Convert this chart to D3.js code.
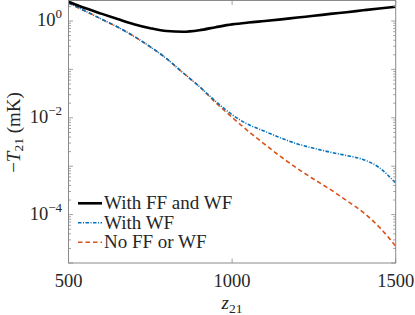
<!DOCTYPE html>
<html>
<head>
<script src="https://cdn.jsdelivr.net/npm/d3@7"></script>
<style>
  body { margin: 0; background: #fff; }
  text { font-family: "Liberation Serif", "DejaVu Serif", serif; fill: #262626; }
  .line { fill: none; }
</style>
</head>
<body>
<script>
var z = [500, 550, 600, 650, 700, 750, 800, 850, 900, 950, 1000, 1050, 1100, 1150, 1200, 1250, 1300, 1350, 1400, 1450, 1500];

// -T21 in mK
var withFFandWF = [2.5, 1.85, 1.42, 1.1, 0.86, 0.71, 0.62, 0.6, 0.645, 0.745, 0.85, 0.93, 1.0, 1.08, 1.18, 1.28, 1.40, 1.52, 1.66, 1.81, 1.97];
var withWF = [2.34, 1.62, 1.10, 0.75, 0.483, 0.292, 0.166, 0.0851, 0.0442, 0.0218, 0.0116, 0.00724, 0.00525, 0.0038, 0.00288, 0.00234, 0.00195, 0.00166, 0.00138, 0.00093, 0.000447];
var noFForWF = [2.34, 1.62, 1.10, 0.75, 0.483, 0.292, 0.166, 0.0851, 0.0442, 0.0205, 0.0102, 0.00525, 0.00282, 0.00155, 0.00089, 0.000537, 0.000331, 0.000195, 0.000112, 0.000055, 0.0000224];

var xTicks = [500, 1000, 1500];
var yTicks = [1e-4, 1e-2, 1];
var yTickLabels = ["\u22124", "\u22122", "0"];

var series = [
  { name: "With FF and WF", values: withFFandWF, color: "#000000", width: 2.6, dash: null },
  { name: "With WF", values: withWF, color: "#0072BD", width: 1.6, dash: "3.5,1.5,1,1.5" },
  { name: "No FF or WF", values: noFForWF, color: "#D95319", width: 1.6, dash: "4.5,3" }
];

var svgWidth = 415, svgHeight = 315;
var pLeft = 68.5, pRight = 395.7, pTop = 0.5, pBottom = 263;

var x = d3.scaleLinear().domain([500, 1500]).range([pLeft, pRight]);
var y = d3.scaleLog().domain([1e-5, 2.65]).range([pBottom, pTop]);

var svg = d3.select("body").append("svg")
  .attr("width", svgWidth)
  .attr("height", svgHeight);

svg.append("clipPath").attr("id", "clip")
  .append("rect")
  .attr("x", pLeft).attr("y", pTop)
  .attr("width", pRight - pLeft).attr("height", pBottom - pTop);

var line = d3.line()
  .x(function (d) { return x(d[0]); })
  .y(function (d) { return y(d[1]); })
  .curve(d3.curveMonotoneX);

var plot = svg.append("g").attr("clip-path", "url(#clip)");

series.slice().reverse().forEach(function (s) {
  plot.append("path")
    .datum(z.map(function (v, i) { return [v, s.values[i]]; }))
    .attr("class", "line")
    .attr("stroke", s.color)
    .attr("stroke-width", s.width)
    .attr("stroke-dasharray", s.dash)
    .attr("d", line);
});

// axes box
var axisColor = "#8a8a8a";
svg.append("rect")
  .attr("x", pLeft).attr("y", pTop)
  .attr("width", pRight - pLeft).attr("height", pBottom - pTop)
  .attr("fill", "none")
  .attr("stroke", axisColor)
  .attr("stroke-width", 1);

// y ticks, major and minor, inward on both sides
var yMinor = [];
for (var e = -5; e <= 0; e++) {
  for (var k = 1; k <= 9; k++) {
    var v = k * Math.pow(10, e);
    if (v <= 2.65) yMinor.push({ v: v, major: k === 1 });
  }
}
yMinor.forEach(function (t) {
  var len = t.major ? 4.5 : 2.5;
  var yy = y(t.v);
  svg.append("line").attr("x1", pLeft).attr("x2", pLeft + len).attr("y1", yy).attr("y2", yy)
    .attr("stroke", axisColor).attr("stroke-width", 0.8);
  svg.append("line").attr("x1", pRight).attr("x2", pRight - len).attr("y1", yy).attr("y2", yy)
    .attr("stroke", axisColor).attr("stroke-width", 0.8);
});

// x ticks
xTicks.forEach(function (t) {
  svg.append("line").attr("x1", x(t)).attr("x2", x(t)).attr("y1", pBottom).attr("y2", pBottom - 4.5)
    .attr("stroke", axisColor).attr("stroke-width", 0.8);
  svg.append("line").attr("x1", x(t)).attr("x2", x(t)).attr("y1", pTop).attr("y2", pTop + 4.5)
    .attr("stroke", axisColor).attr("stroke-width", 0.8);
  svg.append("text")
    .attr("x", x(t)).attr("y", 287)
    .attr("text-anchor", "middle")
    .attr("font-size", 18.5)
    .text(t);
});

// y tick labels
yTicks.forEach(function (t, i) {
  var tx = svg.append("text")
    .attr("x", 62).attr("y", y(t) + 5.5)
    .attr("text-anchor", "end")
    .attr("font-size", 18.5);
  tx.append("tspan").text("10");
  tx.append("tspan").attr("dy", -8.5).attr("font-size", 13).text(yTickLabels[i]);
});

// x label
var xl = svg.append("text")
  .attr("x", 232).attr("y", 309)
  .attr("text-anchor", "middle")
  .attr("font-size", 19);
xl.append("tspan").attr("font-style", "italic").text("z");
xl.append("tspan").attr("dy", 3.5).attr("font-size", 13.5).text("21");

// y label
var yl = svg.append("text")
  .attr("transform", "translate(19.5,132.5) rotate(-90)")
  .attr("text-anchor", "middle")
  .attr("font-size", 19);
yl.append("tspan").text("\u2212");
yl.append("tspan").attr("font-style", "italic").text("T");
yl.append("tspan").attr("dy", 3.5).attr("font-size", 13.5).text("21");
yl.append("tspan").attr("dy", -3.5).text(" (mK)");

// legend
var legendRows = [203.3, 222.7, 242.3];
series.forEach(function (s, i) {
  var ly = legendRows[i];
  svg.append("line")
    .attr("x1", 78).attr("x2", 102).attr("y1", ly).attr("y2", ly)
    .attr("stroke", s.color)
    .attr("stroke-width", s.width)
    .attr("stroke-dasharray", s.dash);
  svg.append("text")
    .attr("x", 104).attr("y", ly + 6)
    .attr("font-size", 19)
    .text(s.name);
});
</script>
</body>
</html>
